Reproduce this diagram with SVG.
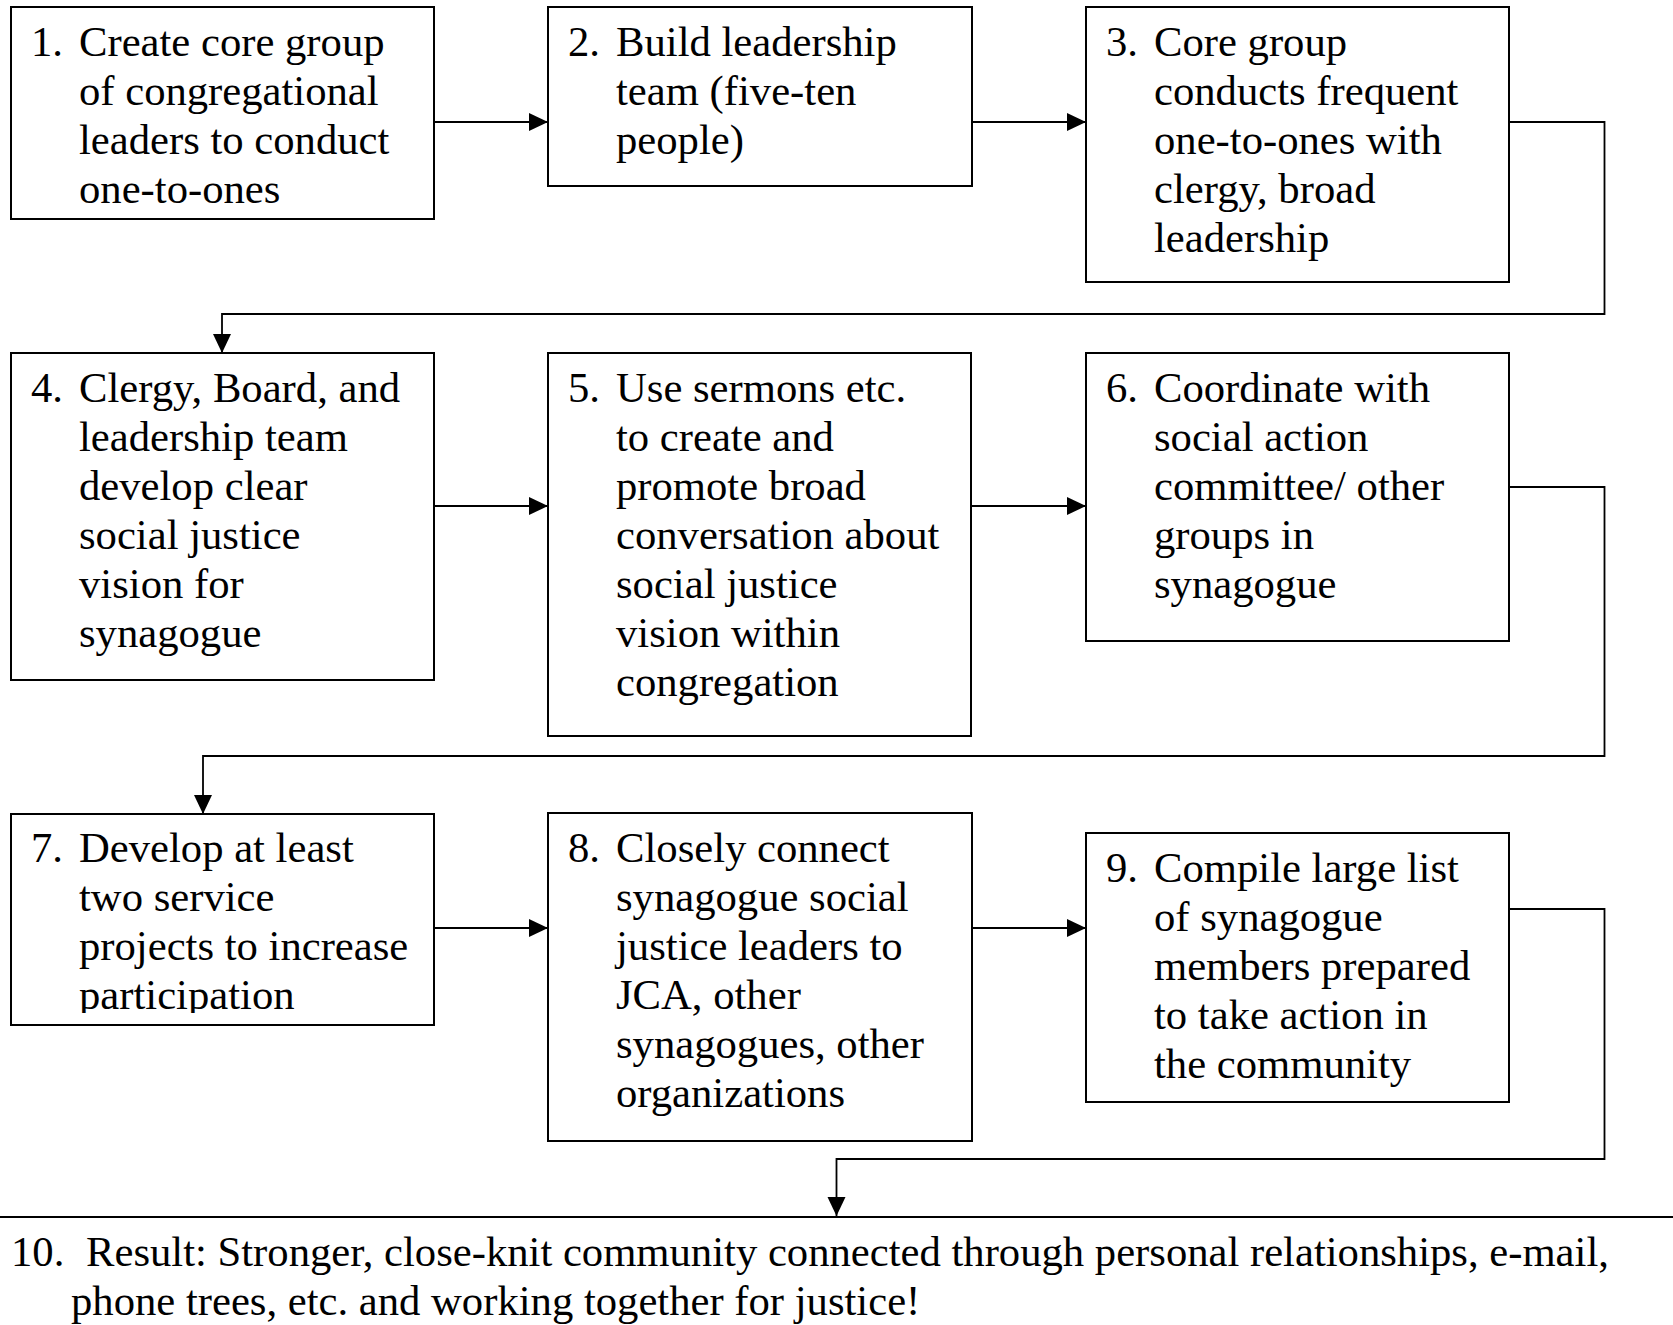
<svg xmlns="http://www.w3.org/2000/svg" width="1673" height="1325" viewBox="0 0 1673 1325">
  <style>
    .box { fill: #ffffff; stroke: #000000; stroke-width: 2; }
    .t { font-family: "Liberation Serif", "Times New Roman", serif; font-size: 42.67px; fill: #000000; }
    .conn { fill: none; stroke: #000000; stroke-width: 1.8; }
  </style>
  <defs>
    <marker id="arrow" markerUnits="userSpaceOnUse" markerWidth="20" markerHeight="20" refX="19" refY="9" orient="auto">
      <path d="M0,0 L19,9 L0,18 Z" fill="#000000"/>
    </marker>
    <clipPath id="clip7">
      <rect x="11" y="814" width="423" height="199"/>
    </clipPath>
  </defs>
  <rect x="0" y="0" width="1673" height="1325" fill="#ffffff"/>

  <g id="connectors">
    <line class="conn" x1="434" y1="122" x2="548" y2="122" marker-end="url(#arrow)"/>
    <line class="conn" x1="972" y1="122" x2="1086" y2="122" marker-end="url(#arrow)"/>
    <polyline class="conn" points="1509,122 1604.5,122 1604.5,314 222,314 222,353" marker-end="url(#arrow)"/>
    <line class="conn" x1="434" y1="506" x2="548" y2="506" marker-end="url(#arrow)"/>
    <line class="conn" x1="971" y1="506" x2="1086" y2="506" marker-end="url(#arrow)"/>
    <polyline class="conn" points="1509,487 1604.5,487 1604.5,756 203,756 203,814" marker-end="url(#arrow)"/>
    <line class="conn" x1="434" y1="928" x2="548" y2="928" marker-end="url(#arrow)"/>
    <line class="conn" x1="972" y1="928" x2="1086" y2="928" marker-end="url(#arrow)"/>
    <polyline class="conn" points="1509,909 1604.5,909 1604.5,1159 836.5,1159 836.5,1216" marker-end="url(#arrow)"/>
  </g>

  <g id="node1">
    <rect class="box" x="11" y="7" width="423" height="212"/>
    <text class="t" x="31" y="56">1.</text>
    <text class="t" y="56"><tspan x="79">Create core group</tspan><tspan x="79" dy="49">of congregational</tspan><tspan x="79" dy="49">leaders to conduct</tspan><tspan x="79" dy="49">one-to-ones</tspan></text>
  </g>

  <g id="node2">
    <rect class="box" x="548" y="7" width="424" height="179"/>
    <text class="t" x="568" y="56">2.</text>
    <text class="t" y="56"><tspan x="616">Build leadership</tspan><tspan x="616" dy="49">team (five-ten</tspan><tspan x="616" dy="49">people)</tspan></text>
  </g>

  <g id="node3">
    <rect class="box" x="1086" y="7" width="423" height="275"/>
    <text class="t" x="1106" y="56">3.</text>
    <text class="t" y="56"><tspan x="1154">Core group</tspan><tspan x="1154" dy="49">conducts frequent</tspan><tspan x="1154" dy="49">one-to-ones with</tspan><tspan x="1154" dy="49">clergy, broad</tspan><tspan x="1154" dy="49">leadership</tspan></text>
  </g>

  <g id="node4">
    <rect class="box" x="11" y="353" width="423" height="327"/>
    <text class="t" x="31" y="402">4.</text>
    <text class="t" y="402"><tspan x="79">Clergy, Board, and</tspan><tspan x="79" dy="49">leadership team</tspan><tspan x="79" dy="49">develop clear</tspan><tspan x="79" dy="49">social justice</tspan><tspan x="79" dy="49">vision for</tspan><tspan x="79" dy="49">synagogue</tspan></text>
  </g>

  <g id="node5">
    <rect class="box" x="548" y="353" width="423" height="383"/>
    <text class="t" x="568" y="402">5.</text>
    <text class="t" y="402"><tspan x="616">Use sermons etc.</tspan><tspan x="616" dy="49">to create and</tspan><tspan x="616" dy="49">promote broad</tspan><tspan x="616" dy="49">conversation about</tspan><tspan x="616" dy="49">social justice</tspan><tspan x="616" dy="49">vision within</tspan><tspan x="616" dy="49">congregation</tspan></text>
  </g>

  <g id="node6">
    <rect class="box" x="1086" y="353" width="423" height="288"/>
    <text class="t" x="1106" y="402">6.</text>
    <text class="t" y="402"><tspan x="1154">Coordinate with</tspan><tspan x="1154" dy="49">social action</tspan><tspan x="1154" dy="49">committee/ other</tspan><tspan x="1154" dy="49">groups in</tspan><tspan x="1154" dy="49">synagogue</tspan></text>
  </g>

  <g id="node7">
    <rect class="box" x="11" y="814" width="423" height="211"/>
    <g clip-path="url(#clip7)">
      <text class="t" x="31" y="862">7.</text>
      <text class="t" y="862"><tspan x="79">Develop at least</tspan><tspan x="79" dy="49">two service</tspan><tspan x="79" dy="49">projects to increase</tspan><tspan x="79" dy="49">participation</tspan></text>
    </g>
  </g>

  <g id="node8">
    <rect class="box" x="548" y="813" width="424" height="328"/>
    <text class="t" x="568" y="862">8.</text>
    <text class="t" y="862"><tspan x="616">Closely connect</tspan><tspan x="616" dy="49">synagogue social</tspan><tspan x="616" dy="49">justice leaders to</tspan><tspan x="616" dy="49">JCA, other</tspan><tspan x="616" dy="49">synagogues, other</tspan><tspan x="616" dy="49">organizations</tspan></text>
  </g>

  <g id="node9">
    <rect class="box" x="1086" y="833" width="423" height="269"/>
    <text class="t" x="1106" y="882">9.</text>
    <text class="t" y="882"><tspan x="1154">Compile large list</tspan><tspan x="1154" dy="49">of synagogue</tspan><tspan x="1154" dy="49">members prepared</tspan><tspan x="1154" dy="49">to take action in</tspan><tspan x="1154" dy="49">the community</tspan></text>
  </g>

  <g id="node10">
    <line x1="0" y1="1217" x2="1673" y2="1217" stroke="#000000" stroke-width="2.2"/>
    <text class="t" x="11" y="1266">10.</text>
    <text class="t" y="1266"><tspan x="86">Result: Stronger, close-knit community connected through personal relationships, e-mail,</tspan><tspan x="71" dy="49">phone trees, etc. and working together for justice!</tspan></text>
  </g>
</svg>
